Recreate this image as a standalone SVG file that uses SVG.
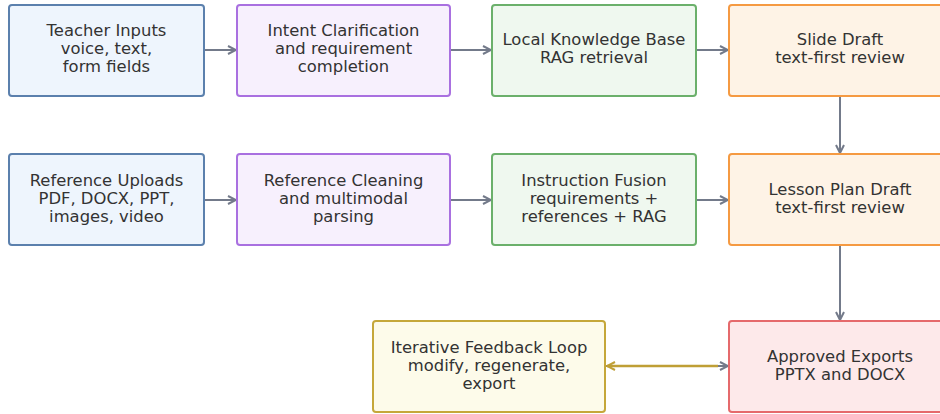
<svg xmlns="http://www.w3.org/2000/svg" width="940" height="414" viewBox="0 0 940 414">
<style>
text{font-family:"DejaVu Sans",sans-serif;font-size:16.4px;fill:#333;text-anchor:middle}
.b{fill:#eef5fd;stroke:#5b80ad;stroke-width:2}
.p{fill:#f7f0fd;stroke:#a970e0;stroke-width:2}
.g{fill:#eff8ef;stroke:#6bb06b;stroke-width:2}
.o{fill:#fef3e6;stroke:#f59a42;stroke-width:2}
.y{fill:#fdfbea;stroke:#c5a73a;stroke-width:2}
.r{fill:#fde9ea;stroke:#e56a6c;stroke-width:2}
.c{stroke:#737a8a;stroke-width:2;fill:none}
.f{stroke:#bf9f36;stroke-width:2.5;fill:none}
</style>
<defs>
<marker id="ah" viewBox="0 0 10 10" refX="9" refY="5" markerWidth="10" markerHeight="10" markerUnits="userSpaceOnUse" orient="auto">
<path d="M1,1 L9,5 L1,9" fill="none" stroke="#737a8a" stroke-width="2"/>
</marker>
<marker id="ahf" viewBox="0 0 10 10" refX="9" refY="5" markerWidth="10" markerHeight="10" markerUnits="userSpaceOnUse" orient="auto">
<path d="M1,1 L9,5 L1,9" fill="none" stroke="#bf9f36" stroke-width="2"/>
</marker>
</defs>
<g id="connectors">
<line class="c" x1="205" y1="50" x2="236" y2="50" marker-end="url(#ah)"/>
<line class="c" x1="451" y1="50" x2="491" y2="50" marker-end="url(#ah)"/>
<line class="c" x1="697" y1="50" x2="728" y2="50" marker-end="url(#ah)"/>
<line class="c" x1="205" y1="200" x2="236" y2="200" marker-end="url(#ah)"/>
<line class="c" x1="451" y1="200" x2="491" y2="200" marker-end="url(#ah)"/>
<line class="c" x1="697" y1="200" x2="728" y2="200" marker-end="url(#ah)"/>
<line class="c" x1="840" y1="97" x2="840" y2="153" marker-end="url(#ah)"/>
<line class="c" x1="840" y1="246" x2="840" y2="320" marker-end="url(#ah)"/>
<line class="c" x1="606" y1="366" x2="728" y2="366" marker-end="url(#ah)"/>
<line class="f" x1="718" y1="366" x2="607" y2="366" marker-end="url(#ahf)"/>
</g>
<g id="teacher"><rect class="b" x="9" y="5" width="195" height="91" rx="3"/><text x="106.5" y="36">Teacher Inputs</text><text x="106.5" y="54">voice, text,</text><text x="106.5" y="72">form fields</text></g>
<g id="intent"><rect class="p" x="237" y="5" width="213" height="91" rx="3"/><text x="343.5" y="36">Intent Clarification</text><text x="343.5" y="54">and requirement</text><text x="343.5" y="72">completion</text></g>
<g id="kb"><rect class="g" x="492" y="5" width="204" height="91" rx="3"/><text x="594" y="45">Local Knowledge Base</text><text x="594" y="63">RAG retrieval</text></g>
<g id="slide"><rect class="o" x="729" y="5" width="222" height="91" rx="3"/><text x="840" y="45">Slide Draft</text><text x="840" y="63">text-first review</text></g>
<g id="refup"><rect class="b" x="9" y="154" width="195" height="91" rx="3"/><text x="106.5" y="186">Reference Uploads</text><text x="106.5" y="204">PDF, DOCX, PPT,</text><text x="106.5" y="222">images, video</text></g>
<g id="refclean"><rect class="p" x="237" y="154" width="213" height="91" rx="3"/><text x="343.5" y="186">Reference Cleaning</text><text x="343.5" y="204">and multimodal</text><text x="343.5" y="222">parsing</text></g>
<g id="fusion"><rect class="g" x="492" y="154" width="204" height="91" rx="3"/><text x="594" y="186">Instruction Fusion</text><text x="594" y="204">requirements +</text><text x="594" y="222">references + RAG</text></g>
<g id="lesson"><rect class="o" x="729" y="154" width="222" height="91" rx="3"/><text x="840" y="195">Lesson Plan Draft</text><text x="840" y="213">text-first review</text></g>
<g id="feedback"><rect class="y" x="373" y="321" width="232" height="91" rx="3"/><text x="489" y="353">Iterative Feedback Loop</text><text x="489" y="371">modify, regenerate,</text><text x="489" y="389">export</text></g>
<g id="approved"><rect class="r" x="729" y="321" width="222" height="91" rx="3"/><text x="840" y="362">Approved Exports</text><text x="840" y="380">PPTX and DOCX</text></g>
</svg>
